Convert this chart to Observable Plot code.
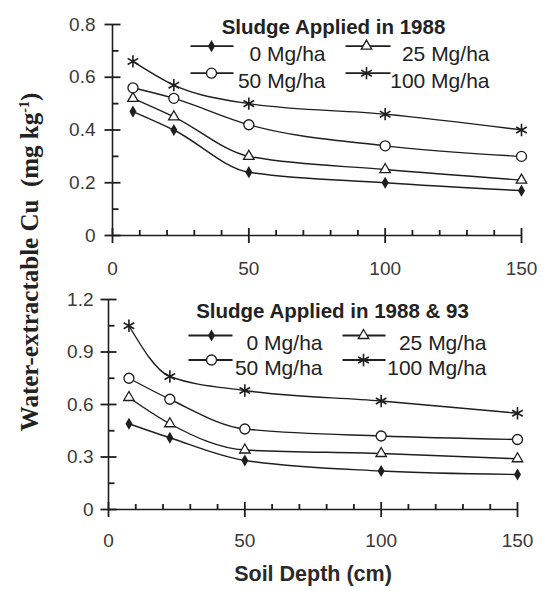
<!DOCTYPE html>
<html>
<head>
<meta charset="utf-8">
<script src="https://cdn.jsdelivr.net/npm/d3@7"></script>
<script src="https://cdn.jsdelivr.net/npm/@observablehq/plot@0.6"></script>
<style>
  html, body { margin: 0; padding: 0; background: #fff; }
  #wrap { position: relative; width: 547px; height: 591px; overflow: hidden; }
  #charts svg { display: block; }
  #ylab {
    position: absolute; left: 30px; top: 262px;
    transform: translate(-50%, -50%) rotate(-90deg);
    white-space: nowrap;
    font: bold 25px "Liberation Serif", "Times New Roman", serif;
    color: #222;
  }
  #ylab sup { font-size: 14px; vertical-align: 9px; line-height: 0; }
</style>
</head>
<body>
<div id="wrap">
  <div id="charts"></div>
  <div id="ylab">Water-extractable Cu&nbsp;&nbsp;(mg kg<sup>-1</sup>)</div>
</div>
<script>
// ---- data ----
const depth = [7.5, 22.5, 50, 100, 150];
const seriesNames = ["0 Mg/ha", "25 Mg/ha", "50 Mg/ha", "100 Mg/ha"];

const cu1988_0   = [0.47, 0.40, 0.24, 0.20, 0.17];
const cu1988_25  = [0.52, 0.45, 0.30, 0.25, 0.21];
const cu1988_50  = [0.56, 0.52, 0.42, 0.34, 0.30];
const cu1988_100 = [0.66, 0.57, 0.50, 0.46, 0.40];

const cu198893_0   = [0.49, 0.41, 0.28, 0.22, 0.20];
const cu198893_25  = [0.64, 0.49, 0.34, 0.32, 0.29];
const cu198893_50  = [0.75, 0.63, 0.46, 0.42, 0.40];
const cu198893_100 = [1.05, 0.76, 0.68, 0.62, 0.55];

const xTicks = [0, 50, 100, 150];
const xMinorTicks = [10, 20, 30, 40, 60, 70, 80, 90, 110, 120, 130, 140];
const yTicks1988 = [0, 0.2, 0.4, 0.6, 0.8];
const yMinor1988 = [0.1, 0.3, 0.5, 0.7];
const yTicks198893 = [0, 0.3, 0.6, 0.9, 1.2];
const yMinor198893 = [0.15, 0.45, 0.75, 1.05];

const titles = ["Sludge Applied in 1988", "Sludge Applied in 1988 & 93"];
const xLabel = "Soil Depth (cm)";

// ---- styling ----
const ink = "#1e1e1e";
const markStyle = [
  {symbol: "diamond", fill: ink, stroke: "none", r: 3.7},
  {symbol: "triangle2", fill: "white", stroke: ink, strokeWidth: 1.3, r: 5},
  {symbol: "circle", fill: "white", stroke: ink, strokeWidth: 1.3, r: 5},
  {symbol: "asterisk", fill: "none", stroke: ink, strokeWidth: 1.6, r: 5.8}
];
const WIDTH = 547;

function panel({values, yMax, yTicks, yMinor, title, height, marginLeft, marginRight, marginTop, marginBottom,
                titleDx, titleDy, rowDy, legendLine, legendMarkX, legendTextX, yPad, xPad, withXLabel}) {
  const FW = WIDTH - marginLeft - marginRight;
  const FH = height - marginTop - marginBottom;
  const fx = px => px / FW * 150;           // frame pixel offset -> x value
  const fy = py => yMax * (1 - py / FH);    // frame pixel offset -> y value
  const rows = values.flatMap((arr, i) => arr.map((v, j) => ({depth: depth[j], value: v, series: seriesNames[i]})));

  // short strokes (ticks, legend keys) as two-point line segments
  const segs = [];
  let id = 0;
  const seg = (x1, y1, x2, y2) => { id++; segs.push({x: x1, y: y1, id}, {x: x2, y: y2, id}); };
  yTicks.forEach(v => seg(fx(-8), v, fx(8), v));
  yMinor.forEach(v => seg(0, v, fx(6), v));
  xTicks.forEach(v => seg(v, fy(FH - 7.5), v, fy(FH + 7.5)));
  xMinorTicks.forEach(v => seg(v, 0, v, fy(FH - 5.5)));
  seriesNames.forEach((name, i) => {
    const col = i % 2, row = Math.floor(i / 2);
    seg(fx(legendLine[col][0]), fy(rowDy[row]), fx(legendLine[col][1]), fy(rowDy[row]));
  });

  const fmt = d => String(d);
  const marks = [
    Plot.ruleX([0], {stroke: ink, strokeWidth: 1.6}),
    Plot.ruleY([0], {stroke: ink, strokeWidth: 1.6}),
    Plot.line(segs, {x: "x", y: "y", z: "id", stroke: ink, strokeWidth: 1.8, strokeLinecap: "butt"}),
    Plot.axisY({ticks: yTicks, tickSize: 0, tickPadding: yPad, tickFormat: fmt, fill: "#3a3a3a"}),
    Plot.axisX({ticks: xTicks, tickSize: 0, tickPadding: xPad, tickFormat: fmt, fill: "#3a3a3a"}),
    Plot.line(rows, {x: "depth", y: "value", z: "series", curve: "monotone-x", stroke: ink, strokeWidth: 1.4}),
    ...seriesNames.map((name, i) => Plot.dot(rows.filter(d => d.series === name), {x: "depth", y: "value", ...markStyle[i]})),
    Plot.text([title], {frameAnchor: "top-left", dx: titleDx, dy: titleDy, textAnchor: "middle", fontWeight: "bold", fontSize: 20.5, fill: "#222"})
  ];
  seriesNames.forEach((name, i) => {
    const col = i % 2, row = Math.floor(i / 2);
    marks.push(
      Plot.dot([0], {frameAnchor: "top-left", dx: legendMarkX[col], dy: rowDy[row], ...markStyle[i]}),
      Plot.text([name], {frameAnchor: "top-left", dx: legendTextX[col], dy: rowDy[row], textAnchor: "end", fontSize: 21, fill: "#222"})
    );
  });
  if (withXLabel) {
    marks.push(Plot.text([xLabel], {frameAnchor: "bottom", dy: 71, fontSize: 21.5, fontWeight: "bold", fill: "#2a2a2a"}));
  }
  return Plot.plot({
    width: WIDTH,
    height,
    marginLeft, marginRight, marginTop, marginBottom,
    style: {fontFamily: '"Liberation Sans", Arial, sans-serif', fontSize: "19px", background: "white", overflow: "visible"},
    x: {domain: [0, 150], label: null},
    y: {domain: [0, yMax], label: null},
    marks
  });
}

const charts = document.getElementById("charts");
charts.append(panel({
  values: [cu1988_0, cu1988_25, cu1988_50, cu1988_100],
  yMax: 0.8, yTicks: yTicks1988, yMinor: yMinor1988, title: titles[0],
  height: 280, marginLeft: 112, marginRight: 26, marginTop: 24, marginBottom: 45,
  titleDx: 221, titleDy: -5, rowDy: [21.7, 48.7],
  legendLine: [[78, 121], [233, 278]], legendMarkX: [99, 254], legendTextX: [213, 377],
  yPad: 17, xPad: 26, withXLabel: false
}));
charts.append(panel({
  values: [cu198893_0, cu198893_25, cu198893_50, cu198893_100],
  yMax: 1.2, yTicks: yTicks198893, yMinor: yMinor198893, title: titles[1],
  height: 311, marginLeft: 108, marginRight: 30, marginTop: 19, marginBottom: 82,
  titleDx: 224, titleDy: 4, rowDy: [36, 60.5],
  legendLine: [[80, 124], [234, 277]], legendMarkX: [103, 255], legendTextX: [214, 378],
  yPad: 15, xPad: 24, withXLabel: true
}));
</script>
</body>
</html>
